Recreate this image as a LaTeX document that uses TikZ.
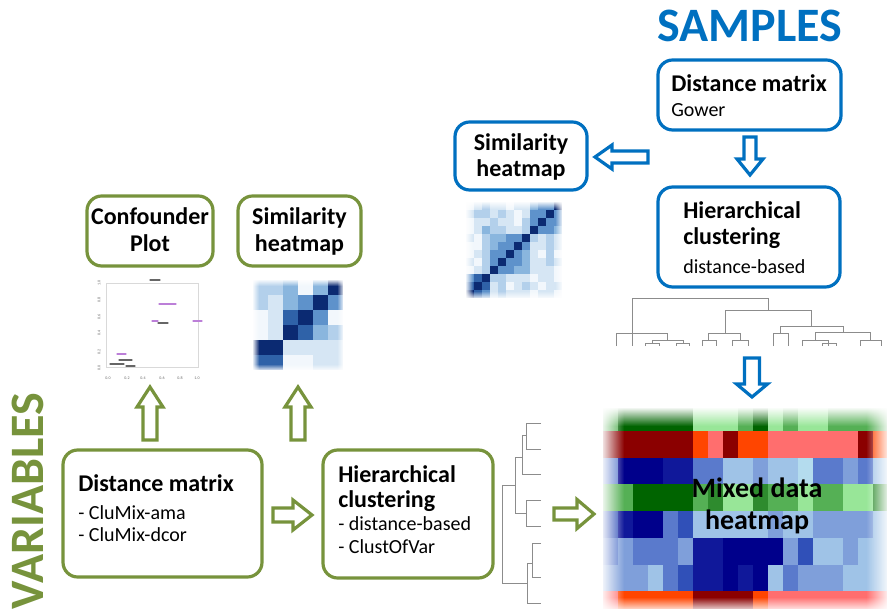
\documentclass[tikz,border=0pt]{standalone}
\usepackage{fontspec}
\setmainfont{Carlito}
\usetikzlibrary{fadings}

\definecolor{sblue}{HTML}{0070C0}
\definecolor{vgreen}{HTML}{77933C}
\definecolor{dendro}{HTML}{8C8C8C}
\definecolor{ptpurple}{HTML}{A048C8}
% similarity shades
\definecolor{S0}{HTML}{F2F7FC}
\definecolor{S1}{HTML}{D6E6F4}
\definecolor{S2}{HTML}{B3D0EB}
\definecolor{S3}{HTML}{8AB6DE}
\definecolor{S4}{HTML}{5E92CB}
\definecolor{S5}{HTML}{2F62A8}
\definecolor{S6}{HTML}{0B2A72}
% mixed data shades
\definecolor{hmR0}{HTML}{8B0000}
\definecolor{hmR1}{HTML}{FF4500}
\definecolor{hmR2}{HTML}{FF6E6E}
\definecolor{hmG0}{HTML}{006400}
\definecolor{hmG1}{HTML}{2E8B2E}
\definecolor{hmG2}{HTML}{55B055}
\definecolor{hmG3}{HTML}{98E698}
\definecolor{hmB0}{HTML}{00008B}
\definecolor{hmB1}{HTML}{10189A}
\definecolor{hmB2}{HTML}{3050B8}
\definecolor{hmB3}{HTML}{5A7ACC}
\definecolor{hmB4}{HTML}{7F9FDA}
\definecolor{hmB5}{HTML}{9FC3E7}
\definecolor{hmB6}{HTML}{B4DCEE}

\tikzfading[name=fadeoutdown, top color=transparent!0, bottom color=transparent!100]
\tikzfading[name=fadeoutup, bottom color=transparent!0, top color=transparent!100]
\tikzfading[name=fadeoutright, left color=transparent!0, right color=transparent!100]
\tikzfading[name=fadeoutleft, right color=transparent!0, left color=transparent!100]

\newcommand{\titlefont}{\fontsize{18}{21}\selectfont\bfseries}
\newcommand{\subfont}{\fontsize{15}{18}\selectfont}

% hollow block arrow pointing along +x from the origin:
% #1 style, #2 length, #3 head length, #4 half shaft, #5 half head
\newcommand{\blockarrow}[5]{%
  \draw[#1] (0,-#4) -- ({#2-#3},-#4) -- ({#2-#3},-#5) -- (#2,0) --
    ({#2-#3},#5) -- ({#2-#3},#4) -- (0,#4) -- cycle;}

% soft white edges round a heatmap: #1 left, #2 top, #3 right, #4 bottom, #5 band
\newcommand{\softedges}[5]{%
  \fill[white, path fading=fadeoutright] (#1-1,#2-1) rectangle ({#1+#5},#4+1);
  \fill[white, path fading=fadeoutleft] ({#3-#5},#2-1) rectangle (#3+1,#4+1);
  \fill[white, path fading=fadeoutdown] (#1-1,#2-1) rectangle (#3+1,{#2+#5});
  \fill[white, path fading=fadeoutup] (#1-1,{#4-#5}) rectangle (#3+1,#4+1);}

\tikzset{
  bluebox/.style={draw=sblue, line width=2.4pt, rounded corners=11pt, fill=white, inner sep=0pt},
  greenbox/.style={draw=vgreen, line width=2.4pt, rounded corners=11pt, fill=white, inner sep=0pt},
  boxsize/.style 2 args={minimum width=#1*0.75pt, minimum height=#2*0.75pt},
  garrow/.style={draw=vgreen, line width=2.4pt, fill=white, line join=miter},
  barrow/.style={draw=sblue, line width=2.4pt, fill=white, line join=miter},
  dendline/.style={draw=dendro, line width=0.6pt},
  ttl/.style={font=\titlefont, inner sep=0pt},
  sub/.style={font=\subfont, inner sep=0pt},
  axlab/.style={font=\fontsize{3}{3}\selectfont, text=black!60, inner sep=0pt},
  blob/.style={line width=0.9pt, line cap=round},
  mixfont/.style={font=\fontsize{21}{24}\selectfont\bfseries, align=center, inner sep=0pt},
}

\begin{document}
\begin{tikzpicture}[x=0.75pt, y=-0.75pt]
\useasboundingbox (0,0) rectangle (887,609);

% ---------- headings ----------
\node[font=\fontsize{36}{40}\selectfont\bfseries, text=sblue, anchor=base, inner sep=0pt] (samples) at (750,42) {SAMPLES};
\node[font=\fontsize{36}{40}\selectfont\bfseries, text=vgreen, rotate=90, anchor=base, inner sep=0pt] (variables) at (43,501) {VARIABLES};

% ---------- sample side ----------
\node[bluebox, boxsize={183}{70}] (dmS) at (749.5,95) {};
\node[ttl, anchor=base west] (dmSt) at (671,92) {Distance matrix};
\node[sub, anchor=base west] (dmSs) at (671,117) {Gower};

\node[bluebox, boxsize={132}{68}] (simS) at (521,156) {};
\node[ttl, anchor=base] (simSt1) at (521,151) {Similarity};
\node[ttl, anchor=base] (simSt2) at (521,177) {heatmap};

\node[bluebox, boxsize={182}{100}] (hcS) at (749,237) {};
\node[ttl, anchor=base west] (hcSt1) at (683,219) {Hierarchical};
\node[ttl, anchor=base west] (hcSt2) at (683,245) {clustering};
\node[sub, anchor=base west] (hcSs) at (683,273) {distance-based};

\begin{scope}[shift={(648,157)}, rotate=180] \blockarrow{barrow}{53}{17}{6}{12} \end{scope}
\begin{scope}[shift={(750,137)}, rotate=-90] \blockarrow{barrow}{38}{16}{6}{13} \end{scope}
\begin{scope}[shift={(752,358)}, rotate=-90] \blockarrow{barrow}{39}{13}{7.5}{15.5} \end{scope}

% sample similarity heatmap
\begin{scope}
\foreach \row [count=\i from 0] in {
  {0,1,2,1,1,0,1,1,3,4,4,6},
  {1,2,2,1,2,1,0,1,4,4,6,4},
  {0,1,1,2,1,1,0,2,4,6,4,4},
  {0,1,3,2,2,1,1,2,6,4,4,3},
  {1,0,2,3,3,4,4,6,2,1,2,1},
  {0,0,2,3,4,4,6,4,1,1,2,1},
  {0,1,2,4,4,6,4,3,1,0,2,0},
  {1,0,2,4,6,4,4,3,1,1,2,1},
  {0,1,2,6,4,4,3,3,1,1,1,0},
  {4,5,6,2,2,1,1,1,0,1,1,0},
  {5,6,5,1,2,0,1,2,1,0,1,1},
  {6,5,4,1,2,1,1,1,0,1,1,0}} {
  \foreach \v [count=\j from 0] in \row {
    \fill[S\v] ({466+8*\j},{202+8*\i}) rectangle +(8.2,8.2);
  }
}
\softedges{466}{202}{562}{298}{7}
\end{scope}

% sample dendrogram
\draw[dendline] (632,333) -- (632,298) -- (768,298) -- (768,310);
\draw[dendline] (725,333) -- (725,310) -- (811,310) -- (811,326);
\draw[dendline] (780,333) -- (780,326) -- (843,326) -- (843,332);
\draw[dendline] (616,346) -- (616,333) -- (667,333) -- (667,340);
\draw[dendline] (632,333) -- (632,346);
\draw[dendline] (652,343) -- (652,340) -- (683,340) -- (683,343);
\draw[dendline] (645,346) -- (645,343) -- (659,343) -- (659,346);
\draw[dendline] (676,346) -- (676,343) -- (689,343) -- (689,346);
\draw[dendline] (708,340) -- (708,333) -- (740,333) -- (740,340);
\draw[dendline] (702,346) -- (702,340) -- (716,340) -- (716,346);
\draw[dendline] (732,346) -- (732,340) -- (748,340) -- (748,346);
\draw[dendline] (773,346) -- (773,333) -- (788,333) -- (788,346);
\draw[dendline] (815,340) -- (815,332) -- (870,332) -- (870,340);
\draw[dendline] (802,346) -- (802,340) -- (828,340) -- (828,346);
\draw[dendline] (822,346) -- (822,343) -- (836,343) -- (836,346);
\draw[dendline] (860,346) -- (860,340) -- (881,340) -- (881,346);

% ---------- mixed data heatmap ----------
\begin{scope}
\clip (603,404) rectangle (887,609);
\foreach \row [count=\i from 0] in {
  {hmG2,hmG0,hmG0,hmG0,hmG0,hmG0,hmG3,hmG3,hmG3,hmG2,hmG0,hmG3,hmG2,hmG3,hmG3,hmG2,hmG2,hmG2,hmG2},
  {hmR0,hmR0,hmR0,hmR0,hmR0,hmR0,hmR1,hmR2,hmR0,hmR1,hmR1,hmR2,hmR2,hmR2,hmR2,hmR2,hmR2,hmR0,hmR1},
  {hmB3,hmB0,hmB0,hmB0,hmB1,hmB1,hmB3,hmB3,hmB5,hmB5,hmB4,hmB5,hmB5,hmB6,hmB3,hmB3,hmB4,hmB3,hmB5},
  {hmG2,hmG2,hmG0,hmG0,hmG0,hmG0,hmG2,hmG1,hmG3,hmG3,hmG1,hmG2,hmG2,hmG3,hmG2,hmG2,hmG3,hmG3,hmG1},
  {hmB2,hmB1,hmB0,hmB0,hmB3,hmB2,hmB5,hmB5,hmB5,hmB5,hmB5,hmB4,hmB5,hmB5,hmB4,hmB4,hmB4,hmB4,hmB5},
  {hmB3,hmB4,hmB3,hmB3,hmB3,hmB4,hmB1,hmB1,hmB0,hmB0,hmB0,hmB0,hmB4,hmB2,hmB5,hmB5,hmB4,hmB5,hmB5},
  {hmB4,hmB4,hmB4,hmB5,hmB3,hmB2,hmB1,hmB1,hmB0,hmB1,hmB0,hmB5,hmB3,hmB4,hmB4,hmB4,hmB5,hmB5,hmB5},
  {hmR2,hmR1,hmR1,hmR1,hmR1,hmR1,hmR0,hmR0,hmR0,hmR0,hmR1,hmR2,hmR2,hmR2,hmR2,hmR2,hmR2,hmR2,hmR2}} {
  \foreach \c [count=\j from 0] in \row {
    \fill[\c] ({603+15*\j},{404+26.75*\i}) rectangle +(15.3,27);
  }
}
\fill[white] (600,400) rectangle (890,408);
\fill[white, path fading=fadeoutdown] (600,407) rectangle (890,426);
\fill[white, path fading=fadeoutright] (600,400) rectangle (624,612);
\fill[white, path fading=fadeoutleft] (866,400) rectangle (890,612);
\fill[white, path fading=fadeoutup] (600,597) rectangle (890,612);
\end{scope}
\node[mixfont, text=black] (mixed) at (757,506) {Mixed data\\heatmap};

% ---------- variable side ----------
\node[greenbox, boxsize={126}{70}] (conf) at (150,231) {};
\node[ttl, anchor=base] (conft1) at (150,225) {Confounder};
\node[ttl, anchor=base] (conft2) at (150,252) {Plot};

\node[greenbox, boxsize={123}{70}] (simV) at (299.5,231) {};
\node[ttl, anchor=base] (simVt1) at (299.5,225) {Similarity};
\node[ttl, anchor=base] (simVt2) at (299.5,252) {heatmap};

\node[greenbox, boxsize={199}{127}] (dmV) at (162.5,513.5) {};
\node[ttl, anchor=base west] (dmVt) at (78,491) {Distance matrix};
\node[sub, anchor=base west] (dmVs1) at (78,519) {- CluMix-ama};
\node[sub, anchor=base west] (dmVs2) at (78,541) {- CluMix-dcor};

\node[greenbox, boxsize={170}{128}] (hcV) at (408,514) {};
\node[ttl, anchor=base west] (hcVt1) at (338,482) {Hierarchical};
\node[ttl, anchor=base west] (hcVt2) at (338,507) {clustering};
\node[sub, anchor=base west] (hcVs1) at (338,530) {- distance-based};
\node[sub, anchor=base west] (hcVs2) at (338,553) {- ClustOfVar};

\begin{scope}[shift={(150,440)}, rotate=90] \blockarrow{garrow}{53}{20}{7}{13} \end{scope}
\begin{scope}[shift={(298,440)}, rotate=90] \blockarrow{garrow}{53}{20}{7}{13} \end{scope}
\begin{scope}[shift={(273,515)}] \blockarrow{garrow}{39}{19}{7}{15} \end{scope}
\begin{scope}[shift={(554,514)}] \blockarrow{garrow}{40}{17}{6}{14.5} \end{scope}

% variable similarity heatmap
\begin{scope}
\foreach \row [count=\i from 0] in {
  {2,2,3,0,3,6},
  {2,1,3,4,6,4},
  {0,1,5,6,4,0},
  {0,1,6,5,3,2},
  {6,6,1,1,1,1},
  {5,5,0,0,1,1}} {
  \foreach \v [count=\j from 0] in \row {
    \fill[S\v] ({253+15*\j},{280+15*\i}) rectangle +(15.2,15.2);
  }
}
\softedges{253}{280}{343}{370}{6}
\end{scope}

% confounder plot
\draw[black!15, line width=0.5pt] (106,283) rectangle (198,367);
\foreach \xx/\lab [count=\k] in {108/0.0,127/0.2,143/0.4,162/0.6,180/0.8,197/1.0} {
  \node[axlab] (xl\k) at (\xx,378) {\lab};
}
\foreach \yy/\lab [count=\k] in {368/0.0,352/0.2,333/0.4,317/0.6,300/0.8,283/1.0} {
  \node[axlab, rotate=90] (yl\k) at (99,\yy) {\lab};
}
\draw[blob, black!60] (150,280) -- (160,280);
\draw[blob, ptpurple!70] (159,304) -- (176,304);
\draw[blob, ptpurple!70] (152,321) -- (158,321);
\draw[blob, black!60] (158,323) -- (168,323);
\draw[blob, ptpurple!70] (193,321) -- (202,321);
\draw[blob, ptpurple!70] (117,354) -- (126,354);
\draw[blob, black!60] (119,360) -- (132,360);
\draw[blob, black!60] (110,364) -- (124,364);
\draw[blob, black!60] (126,366) -- (135,366);

% variable dendrogram
\draw[dendline] (541,423) -- (526,423) -- (526,449) -- (541,449);
\draw[dendline] (526,435) -- (522,435) -- (522,474) -- (541,474);
\draw[dendline] (522,457) -- (515,457) -- (515,513) -- (526,513);
\draw[dendline] (541,500) -- (526,500) -- (526,526) -- (541,526);
\draw[dendline] (515,485) -- (502,485) -- (502,583) -- (527,583);
\draw[dendline] (541,543) -- (532,543) -- (532,577) -- (541,577);
\draw[dendline] (532,563) -- (527,563) -- (527,603) -- (541,603);
\end{tikzpicture}
\end{document}
